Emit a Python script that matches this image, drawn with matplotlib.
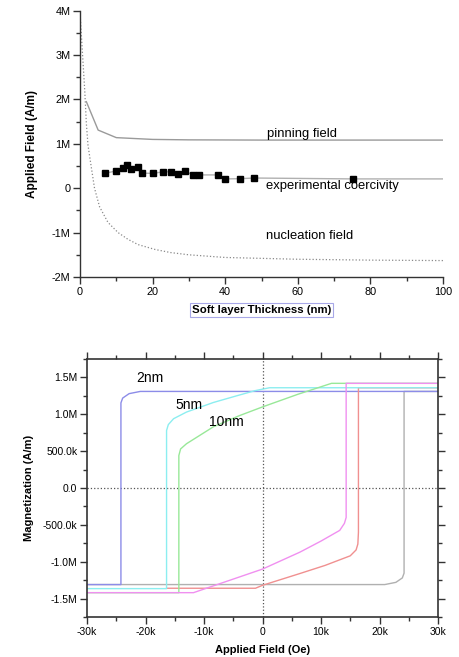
import numpy as np
import matplotlib
matplotlib.use("Agg")
import matplotlib.pyplot as plt
from matplotlib.ticker import FixedLocator, MultipleLocator, FixedFormatter

plt.rcParams['font.family'] = ['Liberation Sans', 'DejaVu Sans']

############################################ Data: top panel (field vs thickness) ############################################
pin_x = [1.75, 5.0, 10.0, 20.0, 30.0, 50.0, 100.0]
pin_y = [1.95e6, 1.31e6, 1.14e6, 1.10e6, 1.09e6, 1.085e6, 1.085e6]

nuc_x = [0.0, 0.6, 1.3, 1.75, 2.2, 3.1, 4.0, 5.4, 7.7, 10.5, 13.2, 16.0, 20.7, 25.0, 30.0, 40.0, 50.0, 60.0, 80.0, 100.0]
nuc_y = [3.97e6, 3.15e6, 2.21e6, 1.46e6, 0.97e6, 0.48e6, 0.0, -0.42e6, -0.77e6, -1.0e6, -1.15e6, -1.27e6,
         -1.38e6, -1.45e6, -1.50e6, -1.56e6, -1.58e6, -1.60e6, -1.62e6, -1.63e6]

exp_x = [6.9, 9.9, 11.8, 12.9, 14.0, 15.9, 17.0, 20.0, 23.0, 25.1, 27.0, 29.0, 31.0, 32.9, 38.0, 40.0, 44.0, 48.0, 75.2]
exp_y = [0.335e6, 0.39e6, 0.46e6, 0.52e6, 0.43e6, 0.47e6, 0.34e6, 0.335e6, 0.37e6, 0.37e6, 0.31e6, 0.39e6,
         0.30e6, 0.30e6, 0.30e6, 0.21e6, 0.215e6, 0.23e6, 0.21e6]
exp_tail_x = 100.0      # coercivity line runs on to the end of the axis
exp_tail_y = 0.21e6

top_xticks = [0, 20, 40, 60, 80, 100]
top_xlabels = ["0", "20", "40", "60", "80", "100"]
top_yticks = [-2e6, -1e6, 0, 1e6, 2e6, 3e6, 4e6]
top_ylabels = ["-2M", "-1M", "0", "1M", "2M", "3M", "4M"]

############################################ Data: bottom panel (hysteresis loops) ##########################################
# 2nm loop
blue_x = [30.0, -20.9, -22.8, -23.9, -24.2, -24.2, -30.0]
blue_y = [1.31e6, 1.31e6, 1.28e6, 1.22e6, 1.155e6, -1.31e6, -1.31e6]
gray_x = [-30.0, 20.9, 22.8, 23.9, 24.2, 24.2, 30.0]
gray_y = [-1.31e6, -1.31e6, -1.28e6, -1.22e6, -1.155e6, 1.31e6, 1.31e6]

# 5nm loop
cyan_x = [30.0, 1.2, -1.3, -4.0, -8.4, -13.0, -15.2, -16.1, -16.4, -16.4, -30.0]
cyan_y = [1.36e6, 1.36e6, 1.32e6, 1.26e6, 1.16e6, 1.03e6, 0.94e6, 0.86e6, 0.78e6, -1.365e6, -1.365e6]
red_x = [-16.4, -1.2, 0.0, 6.4, 10.7, 15.0, 16.0, 16.3, 16.4, 16.4, 30.0]
red_y = [-1.36e6, -1.36e6, -1.32e6, -1.16e6, -1.05e6, -0.92e6, -0.84e6, -0.76e6, -0.6e6, 1.36e6, 1.36e6]

# 10nm loop
green_x = [30.0, 11.8, 6.0, 0.0, -4.0, -8.4, -13.0, -14.0, -14.3, -14.3, -30.0]
green_y = [1.42e6, 1.42e6, 1.27e6, 1.10e6, 0.98e6, 0.83e6, 0.60e6, 0.53e6, 0.44e6, -1.42e6, -1.42e6]
mag_x = [-30.0, -11.8, 0.0, 6.4, 10.0, 13.2, 14.0, 14.3, 14.3, 30.0]
mag_y = [-1.42e6, -1.42e6, -1.10e6, -0.87e6, -0.72e6, -0.575e6, -0.48e6, -0.40e6, 1.42e6, 1.42e6]

bot_xticks = [-30, -20, -10, 0, 10, 20, 30]
bot_xlabels = ["-30k", "-20k", "-10k", "0", "10k", "20k", "30k"]
bot_yticks = [-1.5e6, -1.0e6, -0.5e6, 0.0, 0.5e6, 1.0e6, 1.5e6]
bot_ylabels = ["-1.5M", "-1.0M", "-500.0k", "0.0", "500.0k", "1.0M", "1.5M"]


fig = plt.figure(figsize = (4.59, 6.57), dpi = 100)

##################################################### Top panel #####################################################
ax1 = fig.add_axes([80 / 459, 1 - 277 / 657, 363 / 459, 266.3 / 657])

ax1.plot(nuc_x, nuc_y, linestyle = ':', color = '#8a8a8a', linewidth = 0.9)
ax1.plot(pin_x, pin_y, color = '#9a9a9a', linewidth = 1.0)
ax1.plot(np.append(exp_x, exp_tail_x), np.append(exp_y, exp_tail_y), color = '#b0b0b0', linewidth = 1.0)
ax1.plot(exp_x, exp_y, linestyle = 'none', marker = 's', markersize = 3.8, color = 'black')

ax1.text(51.5, 1.22e6, "pinning field", fontsize = 9.4, va = 'center')
ax1.text(51.3, 0.06e6, "experimental coercivity", fontsize = 9.4, va = 'center')
ax1.text(51.3, -1.07e6, "nucleation field", fontsize = 9.4, va = 'center')

ax1.set_xlim(0, 100)
ax1.set_ylim(-2e6, 4e6)
ax1.spines['top'].set_visible(False)
ax1.spines['right'].set_visible(False)
for s in ['left', 'bottom']:
    ax1.spines[s].set_color('#333333')
    ax1.spines[s].set_linewidth(1.0)
ax1.xaxis.set_major_locator(FixedLocator(top_xticks))
ax1.xaxis.set_major_formatter(FixedFormatter(top_xlabels))
ax1.xaxis.set_minor_locator(MultipleLocator(10))
ax1.yaxis.set_major_locator(FixedLocator(top_yticks))
ax1.yaxis.set_major_formatter(FixedFormatter(top_ylabels))
ax1.yaxis.set_minor_locator(MultipleLocator(0.5e6))
ax1.tick_params(which = 'major', direction = 'out', length = 5, width = 1.0, color = '#333333', labelsize = 7.8, pad = 2)
ax1.tick_params(which = 'minor', direction = 'out', length = 3, width = 1.0, color = '#333333')
ax1.set_ylabel("Applied Field (A/m)", fontsize = 8.5, fontweight = 'bold', labelpad = 10)
ax1.set_xlabel("Soft layer Thickness (nm)", fontsize = 8.2, fontweight = 'bold', labelpad = 6,
               bbox = dict(boxstyle = 'square,pad=0.15', facecolor = 'white', edgecolor = '#a8a8e8', linewidth = 0.8))

#################################################### Bottom panel ####################################################
ax2 = fig.add_axes([87 / 459, 1 - 617 / 657, 351 / 459, 258 / 657])

ax2.axvline(0, linestyle = ':', color = '#555555', linewidth = 0.9)
ax2.axhline(0, linestyle = ':', color = '#555555', linewidth = 0.9)

ax2.plot(gray_x, gray_y, color = '#b0b0b0', linewidth = 1.0)
ax2.plot(blue_x, blue_y, color = '#8c8ce8', linewidth = 1.0)
ax2.plot(red_x, red_y, color = '#f09090', linewidth = 1.0)
ax2.plot(cyan_x, cyan_y, color = '#8ceef0', linewidth = 1.0)
ax2.plot(green_x, green_y, color = '#98e898', linewidth = 1.0)
ax2.plot(mag_x, mag_y, color = '#f090f0', linewidth = 1.0)

ax2.text(-19.3, 1.49e6, "2nm", fontsize = 10, ha = 'center', va = 'center')
ax2.text(-12.6, 1.12e6, "5nm", fontsize = 10, ha = 'center', va = 'center')
ax2.text(-6.2, 0.90e6, "10nm", fontsize = 10, ha = 'center', va = 'center')

ax2.set_xlim(-30, 30)
ax2.set_ylim(-1.75e6, 1.75e6)
for s in ax2.spines.values():
    s.set_color('#333333')
    s.set_linewidth(1.2)
ax2.xaxis.set_major_locator(FixedLocator(bot_xticks))
ax2.xaxis.set_major_formatter(FixedFormatter(bot_xlabels))
ax2.xaxis.set_minor_locator(MultipleLocator(5))
ax2.yaxis.set_major_locator(FixedLocator(bot_yticks))
ax2.yaxis.set_major_formatter(FixedFormatter(bot_ylabels))
ax2.yaxis.set_minor_locator(MultipleLocator(0.25e6))
ax2.tick_params(which = 'both', top = True, right = True, direction = 'out', color = '#333333', width = 1.0)
ax2.tick_params(which = 'major', length = 5, labelsize = 7.5, pad = 2)
ax2.tick_params(which = 'minor', length = 3)
ax2.set_ylabel("Magnetization (A/m)", fontsize = 8, fontweight = 'bold', labelpad = 6)
ax2.set_xlabel("Applied Field (Oe)", fontsize = 8, fontweight = 'bold', labelpad = 6)

plt.savefig("out.png", dpi = 100)
